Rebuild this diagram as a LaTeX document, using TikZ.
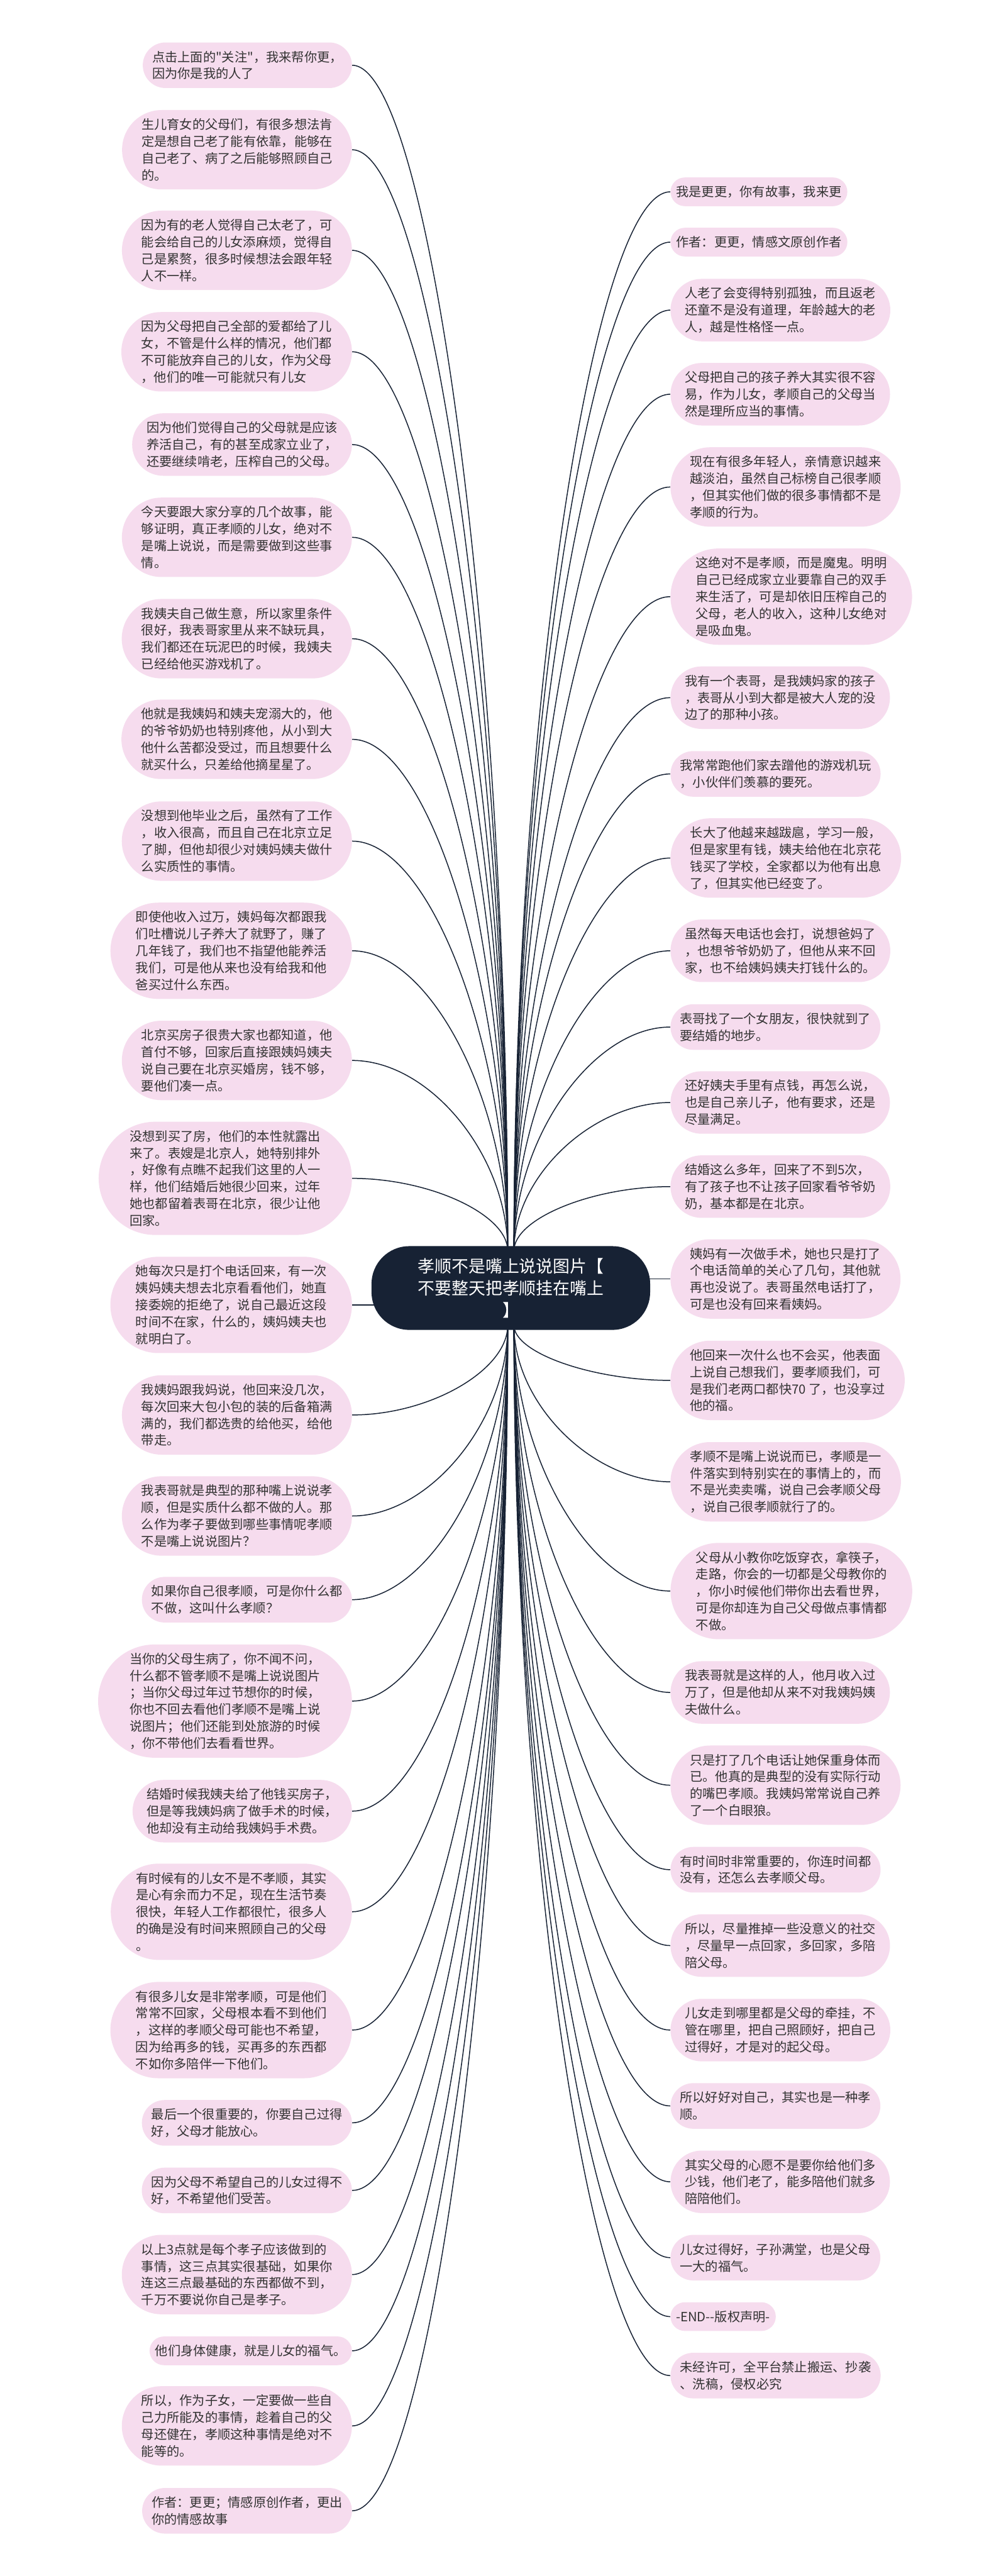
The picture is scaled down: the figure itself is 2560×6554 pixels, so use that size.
\documentclass[tikz,border=0pt]{standalone}
\usepackage{fontspec}
\newfontfamily\cjk{Noto Sans CJK SC}
\usetikzlibrary{shapes.misc,calc}
\pgfdeclarelayer{back}
\pgfdeclarelayer{bg}
\pgfsetlayers{back,bg,main}
\definecolor{pinkfill}{HTML}{F6DCEE}
\definecolor{navy}{HTML}{172234}
\definecolor{txt}{HTML}{333333}
\newcommand{\mconn}[2]{\draw[conn] let \p1=(#1), \p2=(#2) in (\p1) .. controls (\x1,{0.5*(\y1)+0.5*(\y2)}) and ({0.5*(\x1)+0.5*(\x2)},\y2) .. (\p2);}
\begin{document}
\begin{tikzpicture}[x=0.5pt,y=-0.5pt,
  leaf/.style={rounded rectangle, fill=pinkfill, draw=none, inner xsep=5.5pt, inner ysep=0pt, align=left, text=txt, font=\cjk\fontsize{16.2}{21.5}\selectfont},
  lf/.style={leaf, anchor=east},
  rt/.style={leaf, anchor=west},
  h1/.style={minimum height=36.5pt},
  h2/.style={minimum height=58pt},
  h3/.style={minimum height=79.5pt},
  h4/.style={minimum height=101pt},
  h5/.style={minimum height=122.5pt},
  h6/.style={minimum height=144pt},
  rootbox/.style={rectangle, rounded corners=48pt, fill=navy, text=white, minimum width=354.5pt, minimum height=106.5pt, align=center, font=\cjk\fontsize{21.5}{28}\selectfont},
  conn/.style={draw=navy, line width=1.2pt}
]
\useasboundingbox (0,0) rectangle (2560,6554);
\begin{pgfonlayer}{back}
\fill[white] (0,0) rectangle (2560,6554);
\end{pgfonlayer}

\node[rootbox] (c) at (1300,3277) {孝顺不是嘴上说说图片【\\不要整天把孝顺挂在嘴上\\】};

\coordinate (tl) at (1292,3182);
\coordinate (tr) at (1308,3182);
\coordinate (bl) at (1292,3372);
\coordinate (br) at (1308,3372);

% left nodes
\node[lf,h2] (L1) at (896,166) {点击上面的"关注"，我来帮你更，\\因为你是我的人了};
\node[lf,h4] (L2) at (896,381) {生儿育女的父母们，有很多想法肯\\定是想自己老了能有依靠，能够在\\自己老了、病了之后能够照顾自己\\的。};
\node[lf,h4] (L3) at (896,637) {因为有的老人觉得自己太老了，可\\能会给自己的儿女添麻烦，觉得自\\己是累赘，很多时候想法会跟年轻\\人不一样。};
\node[lf,h4] (L4) at (896,895) {因为父母把自己全部的爱都给了儿\\女，不管是什么样的情况，他们都\\不可能放弃自己的儿女，作为父母\\，他们的唯一可能就只有儿女};
\node[lf,h3] (L5) at (896,1131) {因为他们觉得自己的父母就是应该\\养活自己，有的甚至成家立业了，\\还要继续啃老，压榨自己的父母。};
\node[lf,h4] (L6) at (896,1367) {今天要跟大家分享的几个故事，能\\够证明，真正孝顺的儿女，绝对不\\是嘴上说说，而是需要做到这些事\\情。};
\node[lf,h4] (L7) at (896,1625) {我姨夫自己做生意，所以家里条件\\很好，我表哥家里从来不缺玩具，\\我们都还在玩泥巴的时候，我姨夫\\已经给他买游戏机了。};
\node[lf,h4] (L8) at (896,1881) {他就是我姨妈和姨夫宠溺大的，他\\的爷爷奶奶也特别疼他，从小到大\\他什么苦都没受过，而且想要什么\\就买什么，只差给他摘星星了。};
\node[lf,h4] (L9) at (896,2140) {没想到他毕业之后，虽然有了工作\\，收入很高，而且自己在北京立足\\了脚，但他却很少对姨妈姨夫做什\\么实质性的事情。};
\node[lf,h5] (L10) at (896,2419) {即使他收入过万，姨妈每次都跟我\\们吐槽说儿子养大了就野了，赚了\\几年钱了，我们也不指望他能养活\\我们，可是他从来也没有给我和他\\爸买过什么东西。};
\node[lf,h4] (L11) at (896,2698) {北京买房子很贵大家也都知道，他\\首付不够，回家后直接跟姨妈姨夫\\说自己要在北京买婚房，钱不够，\\要他们凑一点。};
\node[lf,h6] (L12) at (896,2998) {没想到买了房，他们的本性就露出\\来了。表嫂是北京人，她特别排外\\，好像有点瞧不起我们这里的人一\\样，他们结婚后她很少回来，过年\\她也都留着表哥在北京，很少让他\\回家。};
\node[lf,h5] (L13) at (896,3320) {她每次只是打个电话回来，有一次\\姨妈姨夫想去北京看看他们，她直\\接委婉的拒绝了，说自己最近这段\\时间不在家，什么的，姨妈姨夫也\\就明白了。};
\node[lf,h4] (L14) at (896,3600) {我姨妈跟我妈说，他回来没几次，\\每次回来大包小包的装的后备箱满\\满的，我们都选贵的给他买，给他\\带走。};
\node[lf,h4] (L15) at (896,3857) {我表哥就是典型的那种嘴上说说孝\\顺，但是实质什么都不做的人。那\\么作为孝子要做到哪些事情呢孝顺\\不是嘴上说说图片？};
\node[lf,h2] (L16) at (896,4070) {如果你自己很孝顺，可是你什么都\\不做，这叫什么孝顺？};
\node[lf,h6] (L17) at (896,4328) {当你的父母生病了，你不闻不问，\\什么都不管孝顺不是嘴上说说图片\\；当你父母过年过节想你的时候，\\你也不回去看他们孝顺不是嘴上说\\说图片；他们还能到处旅游的时候\\，你不带他们去看看世界。};
\node[lf,h3] (L18) at (896,4608) {结婚时候我姨夫给了他钱买房子，\\但是等我姨妈病了做手术的时候，\\他却没有主动给我姨妈手术费。};
\node[lf,h5] (L19) at (896,4864) {有时候有的儿女不是不孝顺，其实\\是心有余而力不足，现在生活节奏\\很快，年轻人工作都很忙，很多人\\的确是没有时间来照顾自己的父母\\。};
\node[lf,h5] (L20) at (896,5165) {有很多儿女是非常孝顺，可是他们\\常常不回家，父母根本看不到他们\\，这样的孝顺父母可能也不希望，\\因为给再多的钱，买再多的东西都\\不如你多陪伴一下他们。};
\node[lf,h2] (L21) at (896,5401) {最后一个很重要的，你要自己过得\\好，父母才能放心。};
\node[lf,h2] (L22) at (896,5573) {因为父母不希望自己的儿女过得不\\好，不希望他们受苦。};
\node[lf,h4] (L23) at (896,5787) {以上3点就是每个孝子应该做到的\\事情，这三点其实很基础，如果你\\连这三点最基础的东西都做不到，\\千万不要说你自己是孝子。};
\node[lf,h1] (L24) at (896,5981) {他们身体健康，就是儿女的福气。};
\node[lf,h4] (L25) at (896,6172) {所以，作为子女，一定要做一些自\\己力所能及的事情，趁着自己的父\\母还健在，孝顺这种事情是绝对不\\能等的。};
\node[lf,h2] (L26) at (896,6388) {作者：更更；情感原创作者，更出\\你的情感故事};

% right nodes
\node[rt,h1] (R1) at (1706,488) {我是更更，你有故事，我来更};
\node[rt,h1] (R2) at (1706,616) {作者：更更，情感文原创作者};
\node[rt,h3] (R3) at (1706,789) {人老了会变得特别孤独，而且返老\\还童不是没有道理，年龄越大的老\\人，越是性格怪一点。};
\node[rt,h3] (R4) at (1706,1003) {父母把自己的孩子养大其实很不容\\易，作为儿女，孝顺自己的父母当\\然是理所应当的事情。};
\node[rt,h4] (R5) at (1706,1239) {现在有很多年轻人，亲情意识越来\\越淡泊，虽然自己标榜自己很孝顺\\，但其实他们做的很多事情都不是\\孝顺的行为。};
\node[rt,h5] (R6) at (1706,1518) {这绝对不是孝顺，而是魔鬼。明明\\自己已经成家立业要靠自己的双手\\来生活了，可是却依旧压榨自己的\\父母，老人的收入，这种儿女绝对\\是吸血鬼。};
\node[rt,h3] (R7) at (1706,1775) {我有一个表哥，是我姨妈家的孩子\\，表哥从小到大都是被大人宠的没\\边了的那种小孩。};
\node[rt,h2] (R8) at (1706,1969) {我常常跑他们家去蹭他的游戏机玩\\，小伙伴们羡慕的要死。};
\node[rt,h4] (R9) at (1706,2183) {长大了他越来越跋扈，学习一般，\\但是家里有钱，姨夫给他在北京花\\钱买了学校，全家都以为他有出息\\了，但其实他已经变了。};
\node[rt,h3] (R10) at (1706,2419) {虽然每天电话也会打，说想爸妈了\\，也想爷爷奶奶了，但他从来不回\\家，也不给姨妈姨夫打钱什么的。};
\node[rt,h2] (R11) at (1706,2613) {表哥找了一个女朋友，很快就到了\\要结婚的地步。};
\node[rt,h3] (R12) at (1706,2805) {还好姨夫手里有点钱，再怎么说，\\也是自己亲儿子，他有要求，还是\\尽量满足。};
\node[rt,h3] (R13) at (1706,3019) {结婚这么多年，回来了不到5次，\\有了孩子也不让孩子回家看爷爷奶\\奶，基本都是在北京。};
\node[rt,h4] (R14) at (1706,3254) {姨妈有一次做手术，她也只是打了\\个电话简单的关心了几句，其他就\\再也没说了。表哥虽然电话打了，\\可是也没有回来看姨妈。};
\node[rt,h4] (R15) at (1706,3512) {他回来一次什么也不会买，他表面\\上说自己想我们，要孝顺我们，可\\是我们老两口都快70 了，也没享过\\他的福。};
\node[rt,h4] (R16) at (1706,3770) {孝顺不是嘴上说说而已，孝顺是一\\件落实到特别实在的事情上的，而\\不是光卖卖嘴，说自己会孝顺父母\\，说自己很孝顺就行了的。};
\node[rt,h5] (R17) at (1706,4048) {父母从小教你吃饭穿衣，拿筷子，\\走路，你会的一切都是父母教你的\\，你小时候他们带你出去看世界，\\可是你却连为自己父母做点事情都\\不做。};
\node[rt,h3] (R18) at (1706,4306) {我表哥就是这样的人，他月收入过\\万了，但是他却从来不对我姨妈姨\\夫做什么。};
\node[rt,h4] (R19) at (1706,4542) {只是打了几个电话让她保重身体而\\已。他真的是典型的没有实际行动\\的嘴巴孝顺。我姨妈常常说自己养\\了一个白眼狼。};
\node[rt,h2] (R20) at (1706,4757) {有时间时非常重要的，你连时间都\\没有，还怎么去孝顺父母。};
\node[rt,h3] (R21) at (1706,4950) {所以，尽量推掉一些没意义的社交\\，尽量早一点回家，多回家，多陪\\陪父母。};
\node[rt,h3] (R22) at (1706,5165) {儿女走到哪里都是父母的牵挂，不\\管在哪里，把自己照顾好，把自己\\过得好，才是对的起父母。};
\node[rt,h2] (R23) at (1706,5358) {所以好好对自己，其实也是一种孝\\顺。};
\node[rt,h3] (R24) at (1706,5551) {其实父母的心愿不是要你给他们多\\少钱，他们老了，能多陪他们就多\\陪陪他们。};
\node[rt,h2] (R25) at (1706,5744) {儿女过得好，子孙满堂，也是父母\\一大的福气。};
\node[rt,h1] (R26) at (1706,5894) {-END-{}-版权声明-};
\node[rt,h2] (R27) at (1706,6044) {未经许可，全平台禁止搬运、抄袭\\、洗稿，侵权必究};

\begin{pgfonlayer}{bg}
\foreach \q in {L1,L2,L3,L4,L5,L6,L7,L8,L9,L10,L11,L12}{\mconn{tl}{\q.east}}
\foreach \q in {L14,L15,L16,L17,L18,L19,L20,L21,L22,L23,L24,L25,L26}{\mconn{bl}{\q.east}}
\foreach \q in {R1,R2,R3,R4,R5,R6,R7,R8,R9,R10,R11,R12,R13}{\mconn{tr}{\q.west}}
\foreach \q in {R15,R16,R17,R18,R19,R20,R21,R22,R23,R24,R25,R26,R27}{\mconn{br}{\q.west}}
\draw[conn] (L13.east) -- (L13.east -| c.center);
\draw[conn] (R14.west) -- (R14.west -| c.center);
\end{pgfonlayer}
\end{tikzpicture}
\end{document}
